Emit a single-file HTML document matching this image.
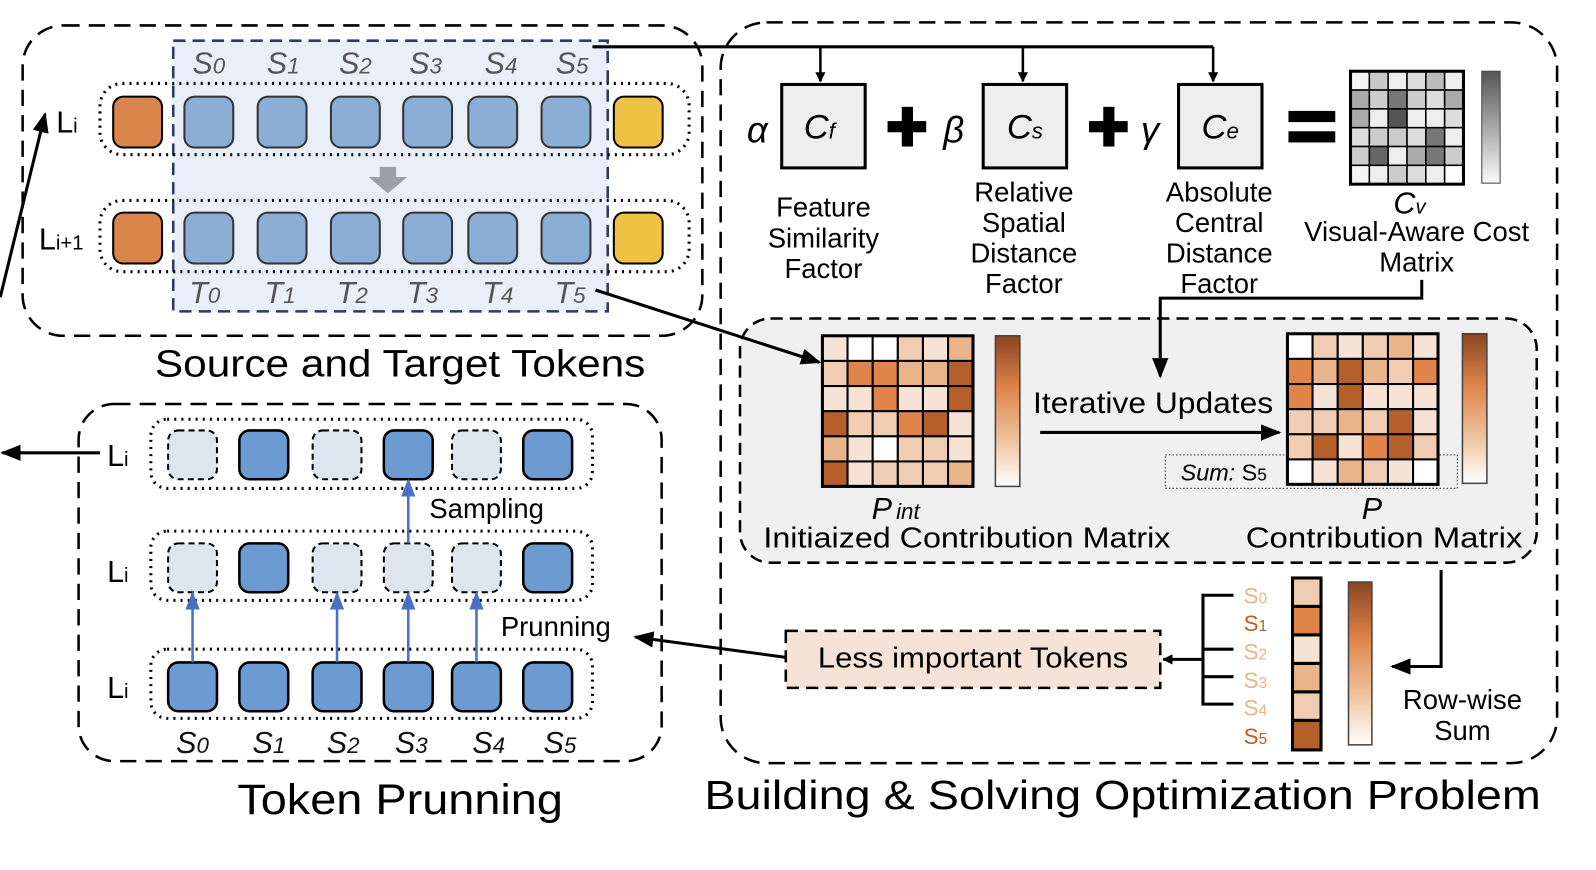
<!DOCTYPE html>
<html><head><meta charset="utf-8"><style>html,body{margin:0;padding:0;background:#fff}svg{display:block}text{font-family:"Liberation Sans",sans-serif}</style></head><body>
<svg width="1596" height="870" viewBox="0 0 1568 855" xmlns="http://www.w3.org/2000/svg">
<defs>
<linearGradient id="og" x1="0" y1="0" x2="0" y2="1"><stop offset="0" stop-color="#8a4520"/><stop offset="0.35" stop-color="#e0844a"/><stop offset="0.7" stop-color="#efc4a0"/><stop offset="1" stop-color="#fff"/></linearGradient>
<linearGradient id="gg" x1="0" y1="0" x2="0" y2="1"><stop offset="0" stop-color="#555"/><stop offset="1" stop-color="#fafafa"/></linearGradient>
<marker id="ah" markerWidth="10" markerHeight="10" refX="9" refY="5" orient="auto" markerUnits="userSpaceOnUse" viewBox="0 0 10 10"><path d="M0,0L10,5L0,10z" fill="#000"/></marker>
<marker id="ab" markerWidth="20" markerHeight="20" refX="18" refY="10" orient="auto" markerUnits="userSpaceOnUse" viewBox="0 0 20 20"><path d="M0,2L20,10L0,18z" fill="#000"/></marker>
<marker id="bb" markerWidth="18" markerHeight="18" refX="16" refY="9" orient="auto" markerUnits="userSpaceOnUse" viewBox="0 0 18 18"><path d="M0,2L18,9L0,16z" fill="#4a6fc4"/></marker>
</defs>

<!-- Top-left panel -->
<rect x="22" y="25" width="668" height="305" rx="40" fill="none" stroke="#000" stroke-width="2.5" stroke-dasharray="16,9"/>
<rect x="170" y="40" width="427" height="266" fill="#e8eff8" stroke="#2b3a66" stroke-width="2.5" stroke-dasharray="12,7"/>
<rect x="98" y="82" width="579" height="70" rx="22" fill="none" stroke="#000" stroke-width="3" stroke-dasharray="2,5"/>
<rect x="98" y="197" width="579" height="70" rx="22" fill="none" stroke="#000" stroke-width="3" stroke-dasharray="2,5"/>
<g stroke="#333" stroke-width="2">
<rect x="111" y="95" width="48" height="50" rx="10" fill="#d9844a" stroke="#000"/>
<rect x="181" y="95" width="48" height="50" rx="10" fill="#8aaed6"/>
<rect x="253" y="95" width="48" height="50" rx="10" fill="#8aaed6"/>
<rect x="325" y="95" width="48" height="50" rx="10" fill="#8aaed6"/>
<rect x="396" y="95" width="48" height="50" rx="10" fill="#8aaed6"/>
<rect x="460" y="95" width="48" height="50" rx="10" fill="#8aaed6"/>
<rect x="532" y="95" width="48" height="50" rx="10" fill="#8aaed6"/>
<rect x="603" y="95" width="48" height="50" rx="10" fill="#efc244" stroke="#000"/>
<rect x="111" y="209" width="48" height="50" rx="10" fill="#d9844a" stroke="#000"/>
<rect x="181" y="209" width="48" height="50" rx="10" fill="#8aaed6"/>
<rect x="253" y="209" width="48" height="50" rx="10" fill="#8aaed6"/>
<rect x="325" y="209" width="48" height="50" rx="10" fill="#8aaed6"/>
<rect x="396" y="209" width="48" height="50" rx="10" fill="#8aaed6"/>
<rect x="460" y="209" width="48" height="50" rx="10" fill="#8aaed6"/>
<rect x="532" y="209" width="48" height="50" rx="10" fill="#8aaed6"/>
<rect x="603" y="209" width="48" height="50" rx="10" fill="#efc244" stroke="#000"/>
</g>
<path d="M373,164h16v10h11l-19,16l-19,-16h11z" fill="#9aa0a8"/>
<g font-size="30" font-style="italic" fill="#555" text-anchor="middle">
<text x="205" y="72">S<tspan font-size="22">0</tspan></text>
<text x="278" y="72">S<tspan font-size="22">1</tspan></text>
<text x="349" y="72">S<tspan font-size="22">2</tspan></text>
<text x="418" y="72">S<tspan font-size="22">3</tspan></text>
<text x="492" y="72">S<tspan font-size="22">4</tspan></text>
<text x="562" y="72">S<tspan font-size="22">5</tspan></text>
<text x="201" y="298">T<tspan font-size="22">0</tspan></text>
<text x="275" y="298">T<tspan font-size="22">1</tspan></text>
<text x="346" y="298">T<tspan font-size="22">2</tspan></text>
<text x="415" y="298">T<tspan font-size="22">3</tspan></text>
<text x="489" y="298">T<tspan font-size="22">4</tspan></text>
<text x="560" y="298">T<tspan font-size="22">5</tspan></text>
</g>
<text x="55" y="130" font-size="30">L<tspan font-size="20">i</tspan></text>
<text x="38" y="245" font-size="30">L<tspan font-size="20">i+1</tspan></text>
<line x1="0" y1="292" x2="44" y2="112" stroke="#000" stroke-width="3" marker-end="url(#ab)"/>
<text x="393" y="370" font-size="37" text-anchor="middle" textLength="482" lengthAdjust="spacingAndGlyphs">Source and Target Tokens</text>

<!-- connectors from S5 -->
<path d="M582,46H1192" fill="none" stroke="#000" stroke-width="3"/>
<line x1="806" y1="46" x2="806" y2="80" stroke="#000" stroke-width="2.5" marker-end="url(#ah)"/>
<line x1="1005" y1="46" x2="1005" y2="80" stroke="#000" stroke-width="2.5" marker-end="url(#ah)"/>
<line x1="1192" y1="46" x2="1192" y2="80" stroke="#000" stroke-width="2.5" marker-end="url(#ah)"/>

<!-- Right panel -->
<rect x="708" y="22" width="822" height="728" rx="45" fill="none" stroke="#000" stroke-width="2.5" stroke-dasharray="16,9"/>
<g fill="#eee" stroke="#000" stroke-width="3">
<rect x="768" y="83" width="82" height="82"/>
<rect x="966" y="83" width="82" height="82"/>
<rect x="1158" y="83" width="82" height="82"/>
</g>
<g font-size="36" font-style="italic" text-anchor="middle">
<text x="744" y="140" font-family="Liberation Serif">α</text>
<text x="937" y="140" font-family="Liberation Serif">β</text>
<text x="1130" y="140" font-family="Liberation Serif">γ</text>
</g>
<g font-size="34" font-style="italic" text-anchor="middle">
<text x="805" y="136">C<tspan font-size="22">f</tspan></text>
<text x="1007" y="136">C<tspan font-size="22">s</tspan></text>
<text x="1199" y="136">C<tspan font-size="22">e</tspan></text>
</g>
<g fill="#000">
<rect x="872" y="119" width="38" height="11"/><rect x="886" y="105" width="11" height="39"/>
<rect x="1070" y="119" width="38" height="11"/><rect x="1084" y="105" width="11" height="39"/>
<rect x="1266" y="109" width="46" height="11"/><rect x="1266" y="129" width="46" height="11"/>
</g>
<g font-size="27" text-anchor="middle">
<text x="809" y="213">Feature</text><text x="809" y="243">Similarity</text><text x="809" y="273">Factor</text>
<text x="1006" y="198">Relative</text><text x="1006" y="228">Spatial</text><text x="1006" y="258">Distance</text><text x="1006" y="288">Factor</text>
<text x="1198" y="198">Absolute</text><text x="1198" y="228">Central</text><text x="1198" y="258">Distance</text><text x="1198" y="288">Factor</text>
<text x="1392" y="237">Visual-Aware Cost</text><text x="1392" y="267">Matrix</text>
</g>
<text x="1385" y="210" font-size="30" font-style="italic" text-anchor="middle">C<tspan font-size="20">v</tspan></text>
<!-- Cv matrix -->
<g stroke="#000" stroke-width="1.5">
<rect x="1327" y="70" width="18.5" height="18.5" fill="#f4f4f4"/><rect x="1345.5" y="70" width="18.5" height="18.5" fill="#c8c8c8"/><rect x="1364" y="70" width="18.5" height="18.5" fill="#eee"/><rect x="1382.5" y="70" width="18.5" height="18.5" fill="#ddd"/><rect x="1401" y="70" width="18.5" height="18.5" fill="#bbb"/><rect x="1419.5" y="70" width="18.5" height="18.5" fill="#eee"/>
<rect x="1327" y="88.5" width="18.5" height="18.5" fill="#aaa"/><rect x="1345.5" y="88.5" width="18.5" height="18.5" fill="#ccc"/><rect x="1364" y="88.5" width="18.5" height="18.5" fill="#777"/><rect x="1382.5" y="88.5" width="18.5" height="18.5" fill="#ccc"/><rect x="1401" y="88.5" width="18.5" height="18.5" fill="#ddd"/><rect x="1419.5" y="88.5" width="18.5" height="18.5" fill="#aaa"/>
<rect x="1327" y="107" width="18.5" height="18.5" fill="#aaa"/><rect x="1345.5" y="107" width="18.5" height="18.5" fill="#eee"/><rect x="1364" y="107" width="18.5" height="18.5" fill="#555"/><rect x="1382.5" y="107" width="18.5" height="18.5" fill="#eee"/><rect x="1401" y="107" width="18.5" height="18.5" fill="#eee"/><rect x="1419.5" y="107" width="18.5" height="18.5" fill="#ddd"/>
<rect x="1327" y="125.5" width="18.5" height="18.5" fill="#ddd"/><rect x="1345.5" y="125.5" width="18.5" height="18.5" fill="#ccc"/><rect x="1364" y="125.5" width="18.5" height="18.5" fill="#ccc"/><rect x="1382.5" y="125.5" width="18.5" height="18.5" fill="#ddd"/><rect x="1401" y="125.5" width="18.5" height="18.5" fill="#777"/><rect x="1419.5" y="125.5" width="18.5" height="18.5" fill="#eee"/>
<rect x="1327" y="144" width="18.5" height="18.5" fill="#ccc"/><rect x="1345.5" y="144" width="18.5" height="18.5" fill="#666"/><rect x="1364" y="144" width="18.5" height="18.5" fill="#eee"/><rect x="1382.5" y="144" width="18.5" height="18.5" fill="#aaa"/><rect x="1401" y="144" width="18.5" height="18.5" fill="#777"/><rect x="1419.5" y="144" width="18.5" height="18.5" fill="#ccc"/>
<rect x="1327" y="162.5" width="18.5" height="18.5" fill="#f4f4f4"/><rect x="1345.5" y="162.5" width="18.5" height="18.5" fill="#eee"/><rect x="1364" y="162.5" width="18.5" height="18.5" fill="#ccc"/><rect x="1382.5" y="162.5" width="18.5" height="18.5" fill="#ddd"/><rect x="1401" y="162.5" width="18.5" height="18.5" fill="#eee"/><rect x="1419.5" y="162.5" width="18.5" height="18.5" fill="#fff"/>
</g>
<rect x="1327" y="70" width="111" height="111" fill="none" stroke="#000" stroke-width="3"/>
<rect x="1456" y="70" width="18" height="110" fill="url(#gg)" stroke="#444" stroke-width="1"/>

<!-- inner gray box -->
<rect x="727" y="313" width="783" height="240" rx="30" fill="#f0f0f0" stroke="#000" stroke-width="2.5" stroke-dasharray="12,7"/>
<path d="M1397,275V293H1140V370" fill="none" stroke="#000" stroke-width="3" marker-end="url(#ab)"/>
<line x1="585" y1="285" x2="805" y2="356" stroke="#000" stroke-width="3" marker-end="url(#ab)"/>
<!-- P_int -->
<g stroke="#000" stroke-width="2">
<rect x="808" y="330" width="24.7" height="24.7" fill="#f6e3d6"/><rect x="832.7" y="330" width="24.7" height="24.7" fill="#fff"/><rect x="857.4" y="330" width="24.7" height="24.7" fill="#fff"/><rect x="882.1" y="330" width="24.7" height="24.7" fill="#f0cdb2"/><rect x="906.8" y="330" width="24.7" height="24.7" fill="#f6e3d6"/><rect x="931.5" y="330" width="24.7" height="24.7" fill="#e9b48a"/>
<rect x="808" y="354.7" width="24.7" height="24.7" fill="#f0cdb2"/><rect x="832.7" y="354.7" width="24.7" height="24.7" fill="#e0844a"/><rect x="857.4" y="354.7" width="24.7" height="24.7" fill="#e0844a"/><rect x="882.1" y="354.7" width="24.7" height="24.7" fill="#e9b48a"/><rect x="906.8" y="354.7" width="24.7" height="24.7" fill="#e9b48a"/><rect x="931.5" y="354.7" width="24.7" height="24.7" fill="#b5602b"/>
<rect x="808" y="379.4" width="24.7" height="24.7" fill="#f6e3d6"/><rect x="832.7" y="379.4" width="24.7" height="24.7" fill="#f6e3d6"/><rect x="857.4" y="379.4" width="24.7" height="24.7" fill="#e0844a"/><rect x="882.1" y="379.4" width="24.7" height="24.7" fill="#f6e3d6"/><rect x="906.8" y="379.4" width="24.7" height="24.7" fill="#f6e3d6"/><rect x="931.5" y="379.4" width="24.7" height="24.7" fill="#b5602b"/>
<rect x="808" y="404.1" width="24.7" height="24.7" fill="#b5602b"/><rect x="832.7" y="404.1" width="24.7" height="24.7" fill="#f0cdb2"/><rect x="857.4" y="404.1" width="24.7" height="24.7" fill="#f0cdb2"/><rect x="882.1" y="404.1" width="24.7" height="24.7" fill="#e0844a"/><rect x="906.8" y="404.1" width="24.7" height="24.7" fill="#b5602b"/><rect x="931.5" y="404.1" width="24.7" height="24.7" fill="#f6e3d6"/>
<rect x="808" y="428.8" width="24.7" height="24.7" fill="#e9b48a"/><rect x="832.7" y="428.8" width="24.7" height="24.7" fill="#f6e3d6"/><rect x="857.4" y="428.8" width="24.7" height="24.7" fill="#fff"/><rect x="882.1" y="428.8" width="24.7" height="24.7" fill="#f0cdb2"/><rect x="906.8" y="428.8" width="24.7" height="24.7" fill="#f0cdb2"/><rect x="931.5" y="428.8" width="24.7" height="24.7" fill="#f6e3d6"/>
<rect x="808" y="453.5" width="24.7" height="24.7" fill="#b5602b"/><rect x="832.7" y="453.5" width="24.7" height="24.7" fill="#f6e3d6"/><rect x="857.4" y="453.5" width="24.7" height="24.7" fill="#f0cdb2"/><rect x="882.1" y="453.5" width="24.7" height="24.7" fill="#f0cdb2"/><rect x="906.8" y="453.5" width="24.7" height="24.7" fill="#f0cdb2"/><rect x="931.5" y="453.5" width="24.7" height="24.7" fill="#e9b48a"/>
</g>
<rect x="808" y="330" width="148" height="148" fill="none" stroke="#000" stroke-width="3"/>
<rect x="978" y="330" width="24" height="148" fill="url(#og)" stroke="#444" stroke-width="1.5"/>
<text x="880" y="510" font-size="30" font-style="italic" text-anchor="middle">P<tspan font-size="22" dx="4">int</tspan></text>
<text x="950" y="538" font-size="28" text-anchor="middle" textLength="400" lengthAdjust="spacingAndGlyphs">Initiaized Contribution Matrix</text>
<text x="1133" y="406" font-size="29" text-anchor="middle" textLength="236" lengthAdjust="spacingAndGlyphs">Iterative Updates</text>
<line x1="1022" y1="425" x2="1257" y2="425" stroke="#000" stroke-width="3" marker-end="url(#ab)"/>
<rect x="1145" y="447" width="287" height="33" fill="none" stroke="#555" stroke-width="1.2" stroke-dasharray="1.5,2"/>
<text x="1160" y="472" font-size="23"><tspan font-style="italic">Sum:</tspan> S<tspan font-size="17">5</tspan></text>
<!-- P -->
<g stroke="#000" stroke-width="2">
<rect x="1265" y="328" width="24.7" height="24.7" fill="#fff"/><rect x="1289.7" y="328" width="24.7" height="24.7" fill="#f0cdb2"/><rect x="1314.4" y="328" width="24.7" height="24.7" fill="#f6e3d6"/><rect x="1339.1" y="328" width="24.7" height="24.7" fill="#f0cdb2"/><rect x="1363.8" y="328" width="24.7" height="24.7" fill="#e9b48a"/><rect x="1388.5" y="328" width="24.7" height="24.7" fill="#f6e3d6"/>
<rect x="1265" y="352.7" width="24.7" height="24.7" fill="#e0844a"/><rect x="1289.7" y="352.7" width="24.7" height="24.7" fill="#e9b48a"/><rect x="1314.4" y="352.7" width="24.7" height="24.7" fill="#b5602b"/><rect x="1339.1" y="352.7" width="24.7" height="24.7" fill="#e9b48a"/><rect x="1363.8" y="352.7" width="24.7" height="24.7" fill="#f0cdb2"/><rect x="1388.5" y="352.7" width="24.7" height="24.7" fill="#e0844a"/>
<rect x="1265" y="377.4" width="24.7" height="24.7" fill="#e0844a"/><rect x="1289.7" y="377.4" width="24.7" height="24.7" fill="#f6e3d6"/><rect x="1314.4" y="377.4" width="24.7" height="24.7" fill="#b5602b"/><rect x="1339.1" y="377.4" width="24.7" height="24.7" fill="#f6e3d6"/><rect x="1363.8" y="377.4" width="24.7" height="24.7" fill="#f6e3d6"/><rect x="1388.5" y="377.4" width="24.7" height="24.7" fill="#f6e3d6"/>
<rect x="1265" y="402.1" width="24.7" height="24.7" fill="#f0cdb2"/><rect x="1289.7" y="402.1" width="24.7" height="24.7" fill="#f0cdb2"/><rect x="1314.4" y="402.1" width="24.7" height="24.7" fill="#e9b48a"/><rect x="1339.1" y="402.1" width="24.7" height="24.7" fill="#f0cdb2"/><rect x="1363.8" y="402.1" width="24.7" height="24.7" fill="#b5602b"/><rect x="1388.5" y="402.1" width="24.7" height="24.7" fill="#f6e3d6"/>
<rect x="1265" y="426.8" width="24.7" height="24.7" fill="#f0cdb2"/><rect x="1289.7" y="426.8" width="24.7" height="24.7" fill="#b5602b"/><rect x="1314.4" y="426.8" width="24.7" height="24.7" fill="#f6e3d6"/><rect x="1339.1" y="426.8" width="24.7" height="24.7" fill="#e0844a"/><rect x="1363.8" y="426.8" width="24.7" height="24.7" fill="#b5602b"/><rect x="1388.5" y="426.8" width="24.7" height="24.7" fill="#f0cdb2"/>
<rect x="1265" y="451.5" width="24.7" height="24.7" fill="#fff"/><rect x="1289.7" y="451.5" width="24.7" height="24.7" fill="#f6e3d6"/><rect x="1314.4" y="451.5" width="24.7" height="24.7" fill="#e9b48a"/><rect x="1339.1" y="451.5" width="24.7" height="24.7" fill="#f0cdb2"/><rect x="1363.8" y="451.5" width="24.7" height="24.7" fill="#f6e3d6"/><rect x="1388.5" y="451.5" width="24.7" height="24.7" fill="#fff"/>
</g>
<rect x="1265" y="328" width="148" height="148" fill="none" stroke="#000" stroke-width="3"/>
<rect x="1437" y="328" width="24" height="147" fill="url(#og)" stroke="#444" stroke-width="1.5"/>
<text x="1348" y="510" font-size="30" font-style="italic" text-anchor="middle">P</text>
<text x="1360" y="538" font-size="28" text-anchor="middle" textLength="272" lengthAdjust="spacingAndGlyphs">Contribution Matrix</text>

<path d="M1416,560V655H1368" fill="none" stroke="#000" stroke-width="3" marker-end="url(#ab)"/>
<text x="1437" y="697" font-size="27" text-anchor="middle">Row-wise</text>
<text x="1437" y="727" font-size="27" text-anchor="middle">Sum</text>
<rect x="1325" y="572" width="23" height="160" fill="url(#og)" stroke="#444" stroke-width="1.5"/>
<g stroke="#000" stroke-width="3">
<rect x="1270" y="568" width="28" height="28" fill="#f0cdb2"/>
<rect x="1270" y="596" width="28" height="28" fill="#e0844a"/>
<rect x="1270" y="624" width="28" height="28" fill="#f6e3d6"/>
<rect x="1270" y="652" width="28" height="28" fill="#e9b48a"/>
<rect x="1270" y="680" width="28" height="28" fill="#f0cdb2"/>
<rect x="1270" y="708" width="28" height="29" fill="#b5602b"/>
</g>
<g font-size="22">
<text x="1222" y="593" fill="#e8b48a">S<tspan font-size="15">0</tspan></text>
<text x="1222" y="620" fill="#b5602b">S<tspan font-size="15">1</tspan></text>
<text x="1222" y="648" fill="#e8b48a">S<tspan font-size="15">2</tspan></text>
<text x="1222" y="676" fill="#e8b48a">S<tspan font-size="15">3</tspan></text>
<text x="1222" y="703" fill="#e8b48a">S<tspan font-size="15">4</tspan></text>
<text x="1222" y="731" fill="#b5602b">S<tspan font-size="15">5</tspan></text>
</g>
<path d="M1212,585H1182V692H1212M1182,638H1212M1182,665H1212" fill="none" stroke="#000" stroke-width="3"/>
<line x1="1182" y1="648" x2="1143" y2="648" stroke="#000" stroke-width="3" marker-end="url(#ah)"/>
<rect x="772" y="620" width="368" height="56" fill="#f6e3d6" stroke="#000" stroke-width="2.5" stroke-dasharray="12,7"/>
<text x="956" y="656" font-size="28" text-anchor="middle" textLength="305" lengthAdjust="spacingAndGlyphs">Less important Tokens</text>
<line x1="772" y1="646" x2="624" y2="626" stroke="#000" stroke-width="3" marker-end="url(#ab)"/>
<text x="1103" y="795" font-size="40" text-anchor="middle" textLength="822" lengthAdjust="spacingAndGlyphs">Building &amp; Solving Optimization Problem</text>

<!-- Bottom-left panel -->
<rect x="77" y="397" width="573" height="351" rx="35" fill="none" stroke="#000" stroke-width="2.5" stroke-dasharray="16,9"/>
<rect x="148" y="412" width="434" height="68" rx="16" fill="none" stroke="#000" stroke-width="3" stroke-dasharray="2,5"/>
<rect x="148" y="522" width="434" height="68" rx="16" fill="none" stroke="#000" stroke-width="3" stroke-dasharray="2,5"/>
<rect x="148" y="638" width="434" height="68" rx="16" fill="none" stroke="#000" stroke-width="3" stroke-dasharray="2,5"/>
<g stroke="#000" stroke-width="2.5">
<rect x="165" y="423" width="48" height="48" rx="10" fill="#dde6ef" stroke-dasharray="6,4" stroke-width="2"/>
<rect x="235" y="423" width="48" height="48" rx="10" fill="#6b9bd1"/>
<rect x="307" y="423" width="48" height="48" rx="10" fill="#dde6ef" stroke-dasharray="6,4" stroke-width="2"/>
<rect x="377" y="423" width="48" height="48" rx="10" fill="#6b9bd1"/>
<rect x="444" y="423" width="48" height="48" rx="10" fill="#dde6ef" stroke-dasharray="6,4" stroke-width="2"/>
<rect x="514" y="423" width="48" height="48" rx="10" fill="#6b9bd1"/>
<rect x="165" y="534" width="48" height="48" rx="10" fill="#dde6ef" stroke-dasharray="6,4" stroke-width="2"/>
<rect x="235" y="534" width="48" height="48" rx="10" fill="#6b9bd1"/>
<rect x="307" y="534" width="48" height="48" rx="10" fill="#dde6ef" stroke-dasharray="6,4" stroke-width="2"/>
<rect x="377" y="534" width="48" height="48" rx="10" fill="#dde6ef" stroke-dasharray="6,4" stroke-width="2"/>
<rect x="444" y="534" width="48" height="48" rx="10" fill="#dde6ef" stroke-dasharray="6,4" stroke-width="2"/>
<rect x="514" y="534" width="48" height="48" rx="10" fill="#6b9bd1"/>
<rect x="165" y="651" width="48" height="48" rx="10" fill="#6b9bd1"/>
<rect x="235" y="651" width="48" height="48" rx="10" fill="#6b9bd1"/>
<rect x="307" y="651" width="48" height="48" rx="10" fill="#6b9bd1"/>
<rect x="377" y="651" width="48" height="48" rx="10" fill="#6b9bd1"/>
<rect x="444" y="651" width="48" height="48" rx="10" fill="#6b9bd1"/>
<rect x="514" y="651" width="48" height="48" rx="10" fill="#6b9bd1"/>
</g>
<g stroke="#4a6fc4" stroke-width="2.5">
<line x1="189" y1="651" x2="189" y2="583" marker-end="url(#bb)"/>
<line x1="331" y1="651" x2="331" y2="583" marker-end="url(#bb)"/>
<line x1="401" y1="651" x2="401" y2="583" marker-end="url(#bb)"/>
<line x1="468" y1="651" x2="468" y2="583" marker-end="url(#bb)"/>
<line x1="401" y1="534" x2="401" y2="472" marker-end="url(#bb)"/>
</g>
<text x="478" y="509" font-size="27" text-anchor="middle">Sampling</text>
<text x="546" y="625" font-size="27" text-anchor="middle">Prunning</text>
<g font-size="30">
<text x="105" y="458">L<tspan font-size="20">i</tspan></text>
<text x="105" y="572">L<tspan font-size="20">i</tspan></text>
<text x="105" y="686">L<tspan font-size="20">i</tspan></text>
</g>
<line x1="98" y1="445" x2="2" y2="445" stroke="#000" stroke-width="3" marker-end="url(#ab)"/>
<g font-size="30" font-style="italic" fill="#111" text-anchor="middle">
<text x="189" y="740">S<tspan font-size="22">0</tspan></text>
<text x="264" y="740">S<tspan font-size="22">1</tspan></text>
<text x="337" y="740">S<tspan font-size="22">2</tspan></text>
<text x="404" y="740">S<tspan font-size="22">3</tspan></text>
<text x="480" y="740">S<tspan font-size="22">4</tspan></text>
<text x="550" y="740">S<tspan font-size="22">5</tspan></text>
</g>
<text x="393" y="800" font-size="42" text-anchor="middle" textLength="320" lengthAdjust="spacingAndGlyphs">Token Prunning</text>
</svg>
</body></html>
